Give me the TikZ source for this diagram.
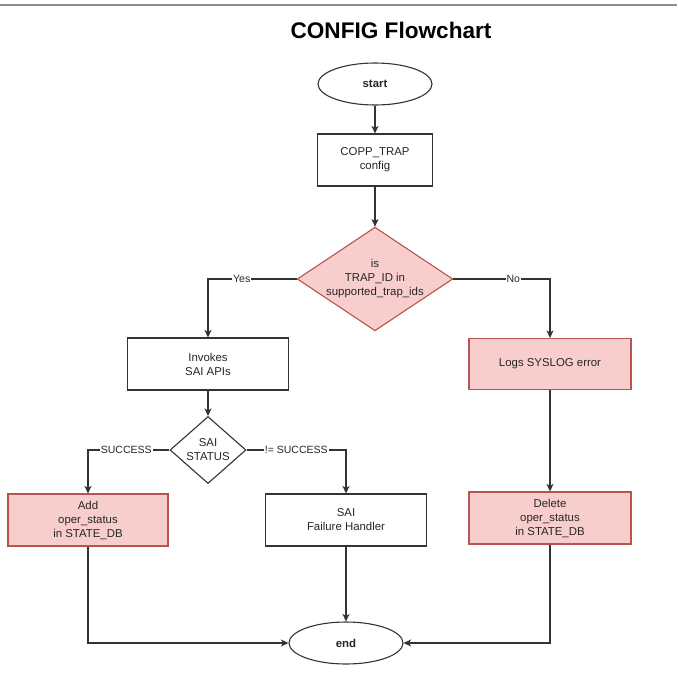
\documentclass[tikz,border=0pt]{standalone}
\usepackage{fontspec}
\setmainfont{Liberation Sans}
\usetikzlibrary{shapes.geometric,arrows.meta}
\definecolor{pinkfill}{RGB}{248,206,204}
\definecolor{pinkline}{RGB}{184,84,80}
\begin{document}
\begin{tikzpicture}[x=1pt,y=-1pt,
    font=\fontsize{11.4}{14}\selectfont,text=black!85,
    line/.style={draw=black!80,line width=1.1pt},
    arr/.style={line,-{Stealth[length=7.5pt,width=7pt,inset=2pt]}},
    term/.style={ellipse,line,minimum width=114pt,minimum height=42pt,inner sep=0pt,font=\fontsize{11.4}{14}\selectfont\bfseries},
    proc/.style={rectangle,line,fill=white,minimum width=160pt,minimum height=52pt,align=center,inner sep=0pt},
    pinkproc/.style={proc,draw=pinkline,fill=pinkfill},
    decide/.style={diamond,line,align=center,inner sep=0pt},
    lbl/.style={fill=white,inner sep=1pt,font=\fontsize{10.5}{12}\selectfont}]
  \useasboundingbox (0,0) rectangle (678,697);
  \draw[gray!90,line width=2pt] (0,5) -- (677,5);
  \node[font=\fontsize{22.6}{26}\selectfont\bfseries,text=black] (title) at (391,30) {CONFIG Flowchart};
  % main column
  \node[term] (start) at (375,84) {start};
  \node[proc,minimum width=115pt] (copp) at (375,160) {COPP\_TRAP\\config};
  \node[decide,draw=pinkline,fill=pinkfill,aspect=1.5,minimum width=152pt,minimum height=102pt]
    (trap) at (375,279) {is\\TRAP\_ID in\\supported\_trap\_ids};
  % left branch
  \node[proc,minimum width=161pt] (invokes) at (208,364) {Invokes\\SAI APIs};
  \node[decide,aspect=1.2,minimum width=76pt,minimum height=67pt] (status) at (208,450) {SAI\\STATUS};
  \node[pinkproc] (add) at (88,520) {Add\\oper\_status\\in STATE\_DB};
  \node[proc,minimum width=161pt] (failure) at (346,520) {SAI\\Failure Handler};
  % right branch
  \node[pinkproc,minimum width=162pt,minimum height=51pt] (syslog) at (550,364) {Logs SYSLOG error};
  \node[pinkproc,minimum width=162pt] (delete) at (550,518) {Delete\\oper\_status\\in STATE\_DB};
  \node[term] (end) at (346,643) {end};
  % connectors
  \draw[arr] (start) -- (copp);
  \draw[arr] (copp) -- (trap);
  \draw[arr] (trap.west) -| node[lbl,pos=0.31] {Yes} (invokes);
  \draw[arr] (trap.east) -| node[lbl,pos=0.31] {No} (syslog);
  \draw[arr] (invokes) -- (status);
  \draw[arr] (status.west) -| node[lbl,pos=0.265] {SUCCESS} (add);
  \draw[arr] (status.east) -| node[lbl,pos=0.25] {!= SUCCESS} (failure);
  \draw[arr] (syslog) -- (delete);
  \draw[arr] (add) |- (end);
  \draw[arr] (failure) -- (end);
  \draw[arr] (delete) |- (end);
\end{tikzpicture}
\end{document}
